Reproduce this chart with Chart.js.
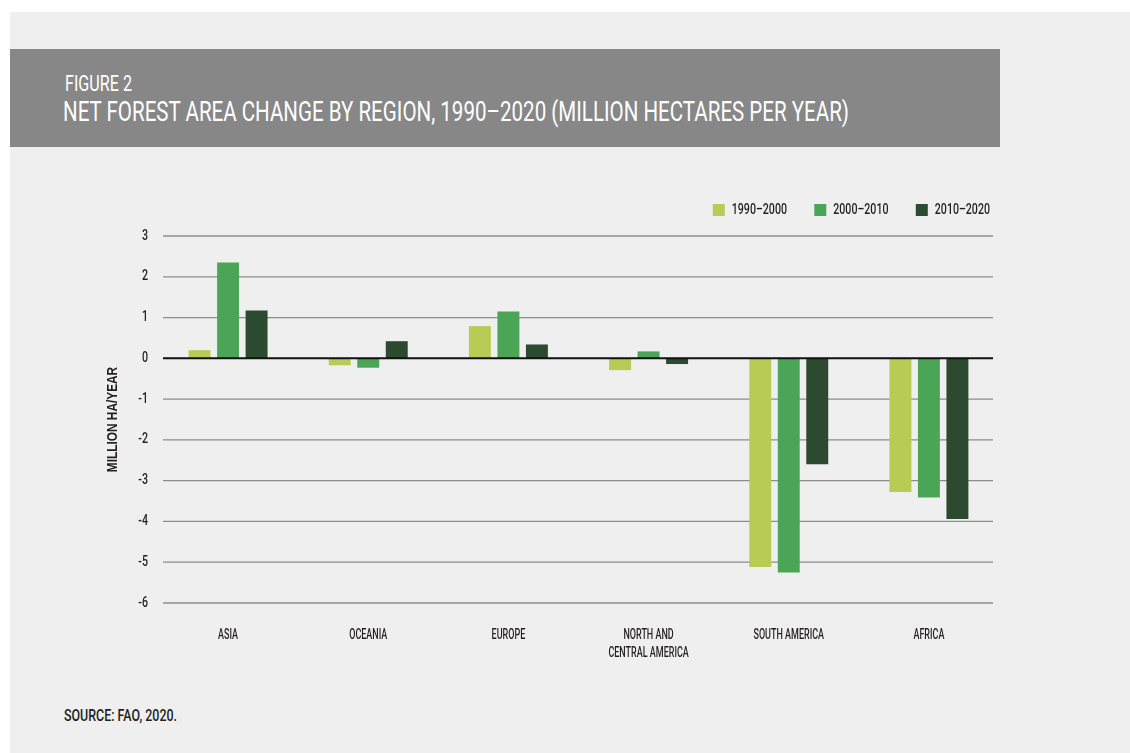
<!DOCTYPE html>
<html><head><meta charset="utf-8">
<script src="https://cdn.jsdelivr.net/npm/chart.js@4/dist/chart.umd.min.js"></script>
<style>
html,body{margin:0;padding:0;background:#fff;width:1130px;height:753px;overflow:hidden;}
#panel{position:absolute;left:10px;top:12px;width:1120px;height:741px;background:#efefef;}
#band{position:absolute;left:10px;top:49px;width:990px;height:98px;background:#878787;}
.t{position:absolute;white-space:nowrap;line-height:1;transform-origin:0 0;font-family:Roboto,"Liberation Sans",sans-serif;}
#fig{left:65px;top:73px;font-size:22px;color:#fff;}
#ttl{left:63px;top:98px;font-size:28px;color:#fff;}
#src{left:64px;top:707px;font-size:17px;color:#231f20;font-weight:500;}
#c{position:absolute;left:0;top:0;}
</style></head><body>
<div id="panel"></div><div id="band"></div>
<div class="t" id="fig" data-w="67">FIGURE 2</div>
<div class="t" id="ttl" data-w="786">NET FOREST AREA CHANGE BY REGION, 1990–2020 (MILLION HECTARES PER YEAR)</div>
<div class="t" id="src" data-w="113">SOURCE: FAO, 2020.</div>
<canvas id="c" width="1130" height="753"></canvas>
<script>
const categories = ['ASIA','OCEANIA','EUROPE',['NORTH AND','CENTRAL AMERICA'],'SOUTH AMERICA','AFRICA'];
const seriesNames = ['1990–2000','2000–2010','2010–2020'];
const values1990 = [0.20,-0.17,0.79,-0.29,-5.12,-3.28];
const values2000 = [2.35,-0.23,1.15,0.17,-5.25,-3.41];
const values2010 = [1.17,0.42,0.34,-0.14,-2.60,-3.94];
const yTicks = [3,2,1,0,-1,-2,-3,-4,-5,-6];
const seriesColors = ['#b8cb55','#4aa556','#2c4a30'];

document.querySelectorAll('.t').forEach(el=>{
  const w = el.getBoundingClientRect().width;
  el.style.transform = 'scaleX(' + (+el.dataset.w / w) + ')';
});

// condensed rendering of canvas text (reference uses a condensed typeface)
const canvas = document.getElementById('c');
const cx = canvas.getContext('2d');
const origFill = cx.fillText.bind(cx);
const origMeasure = cx.measureText.bind(cx);
function squeeze(ctx, t){
  if (/^[\d–\-\s.,]+$/.test(String(t))) return 0.76;
  if (/bold|[6-9]00/.test(ctx.font)) return 0.79;
  return 0.6;
}
cx.fillText = function(t, x, y){
  const s = squeeze(this, t);
  this.save(); this.translate(x, y); this.scale(s, 1); origFill(t, 0, 0); this.restore();
};
cx.measureText = function(t){
  const m = origMeasure(t); const s = squeeze(this, t);
  return {width:m.width*s, actualBoundingBoxAscent:m.actualBoundingBoxAscent, actualBoundingBoxDescent:m.actualBoundingBoxDescent,
    actualBoundingBoxLeft:m.actualBoundingBoxLeft*s, actualBoundingBoxRight:m.actualBoundingBoxRight*s};
};

const FONT = 'Roboto, "Liberation Sans", sans-serif';
Chart.defaults.font.family = FONT;
Chart.defaults.color = '#231f20';

const gridPlugin = {
  id:'customGrid',
  beforeDatasetsDraw(chart){
    const {ctx, scales:{y}, chartArea:a} = chart;
    ctx.save();
    ctx.strokeStyle = '#8c8c8c'; ctx.lineWidth = 1.3;
    yTicks.forEach(v=>{
      if (v === 0) return;
      const py = y.getPixelForValue(v);
      ctx.beginPath(); ctx.moveTo(a.left+5, py); ctx.lineTo(a.right-6, py); ctx.stroke();
    });
    ctx.restore();
  },
  afterDatasetsDraw(chart){
    const {ctx, scales:{y}, chartArea:a} = chart;
    ctx.save();
    ctx.strokeStyle = '#111'; ctx.lineWidth = 2;
    const py = y.getPixelForValue(0);
    ctx.beginPath(); ctx.moveTo(a.left+5, py); ctx.lineTo(a.right-6, py); ctx.stroke();
    ctx.restore();
  }
};

const seriesValues = [values1990, values2000, values2010];
new Chart(canvas, {
  type:'bar',
  data:{
    labels: categories,
    datasets: seriesNames.map((n,i)=>({
      label:n, data:seriesValues[i], backgroundColor:seriesColors[i], borderWidth:0,
      xAxisID:'x', yAxisID:'y', barPercentage:0.77, categoryPercentage:0.61
    }))
  },
  options:{
    responsive:false, animation:false, devicePixelRatio:1,
    layout:{padding:{left:100,right:112.7,top:175.7,bottom:0}},
    plugins:{
      legend:{position:'top', align:'end',
        labels:{boxWidth:12, boxHeight:12, padding:27.3, color:'#231f20', font:{size:14, weight:'500', family:FONT}}},
      tooltip:{enabled:false}
    },
    scales:{
      x:{axis:'x', position:'bottom', grid:{display:false, drawTicks:false}, border:{display:false},
        ticks:{padding:23, color:'#231f20', maxRotation:0, autoSkip:false, font:{size:15, weight:'500', lineHeight:1.2, family:FONT}},
        afterFit(s){ s.height = 150; }},
      y:{axis:'y', position:'left', min:-6, max:3,
        ticks:{stepSize:1, padding:10, color:'#231f20', font:{size:14, weight:'500', family:FONT}},
        grid:{display:false, drawTicks:false}, border:{display:false},
        title:{display:true, text:'MILLION HA/YEAR', color:'#231f20', font:{size:15, weight:'bold', family:'"Liberation Sans", Roboto, sans-serif'}, padding:{top:4,bottom:0}},
        afterFit(s){ s.width = 58; }},
      xTop:{axis:'x', type:'category', position:'top', display:true, ticks:{display:false},
        grid:{display:false, drawTicks:false}, border:{display:false}, afterFit(s){ s.height = 9; }},
      yR:{axis:'y', type:'linear', position:'right', display:true, ticks:{display:false},
        grid:{display:false, drawTicks:false}, border:{display:false}, afterFit(s){ s.width = 18.3; }}
    }
  },
  plugins:[gridPlugin]
});
</script>
</body></html>
